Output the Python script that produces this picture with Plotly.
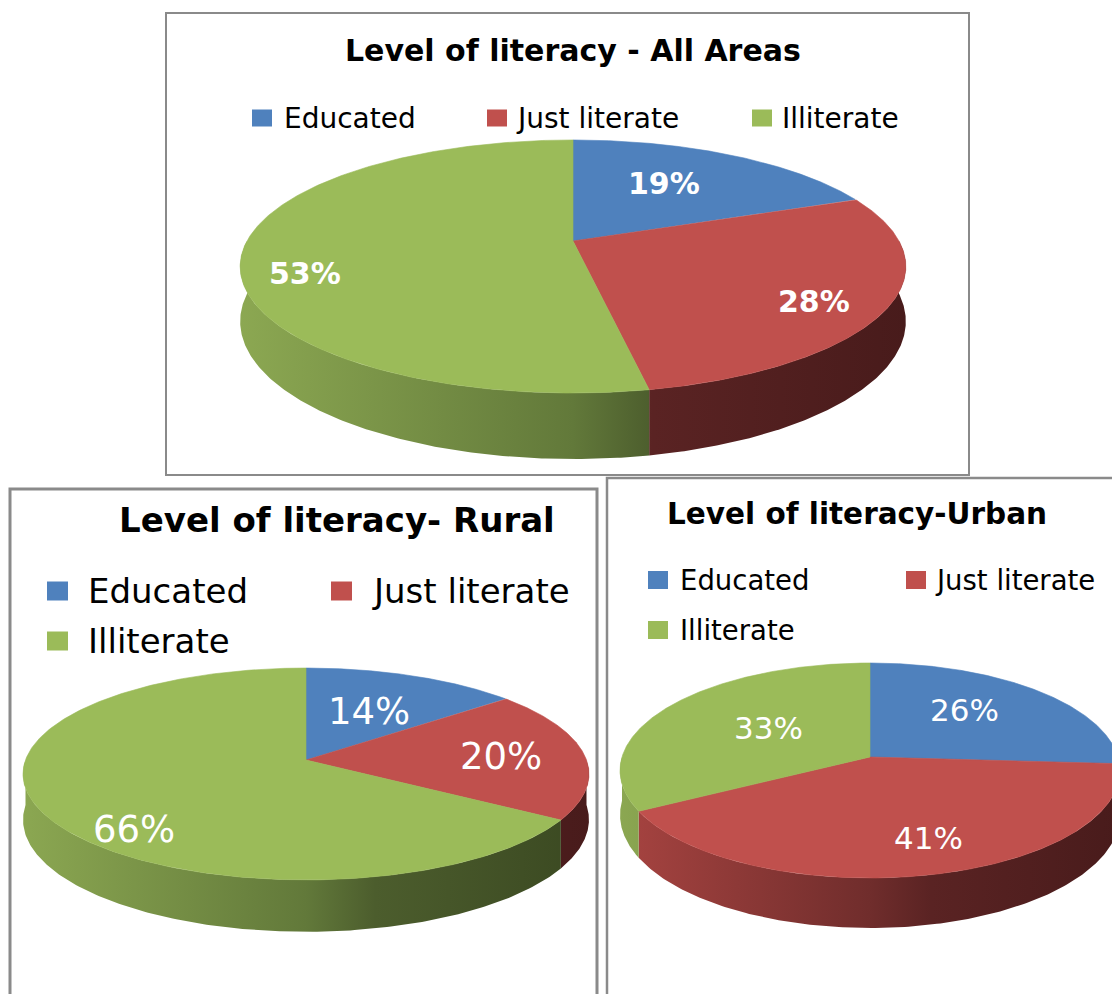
import numpy as np
import plotly.graph_objects as go

# ---------------- data ----------------
categories = ["Educated", "Just literate", "Illiterate"]
all_areas_pct = [19, 28, 53]
rural_pct = [14, 20, 66]
urban_pct = [26, 41, 33]
chart_titles = ["Level of literacy - All Areas", "Level of literacy- Rural", "Level of literacy-Urban"]

# ---------------- styles ----------------
W, H = 1112, 994
FONT = "DejaVu Sans"
TOP_COLORS = ["#4F81BD", "#C0504D", "#9BBB59"]
SIDE_SCALES = [
    [[0, "rgb(86,124,176)"], [0.5, "rgb(58,86,124)"], [0.62, "rgb(46,70,102)"], [1, "rgb(36,55,82)"]],
    [[0, "rgb(168,68,65)"], [0.5, "rgb(112,45,44)"], [0.62, "rgb(90,35,35)"], [1, "rgb(72,27,27)"]],
    [[0, "rgb(140,168,82)"], [0.5, "rgb(98,121,58)"], [0.62, "rgb(76,93,45)"], [1, "rgb(58,72,33)"]],
]
BORDER = "#8a8a8a"

# pie geometry (layout only): apex position, horizontal/vertical scale, perspective, depth
PIE_LAYOUT = [
    dict(cx=573, cy=241, C=326, B=121.4, k=0.2016, d=52.7, lsize=30, bold=True,
         label_r=[0.61, 0.81, 0.82], label_da=[-3.7, 5.2, -12.6]),
    dict(cx=306, cy=760, C=280.5, B=104.1, k=0.132, d=45, lsize=37, bold=False,
         label_r=[0.55, 0.70, 0.835], label_da=[0.8, 1.2, -18.8]),
    dict(cx=870, cy=757, C=248, B=105.8, k=0.1256, d=43.7, lsize=31, bold=False,
         label_r=[0.62, 0.73, 0.51], label_da=[-6.3, -4.4, 3.1]),
]
PIE_VALUES = [all_areas_pct, rural_pct, urban_pct]

# titles / legends / frames layout
TITLE_POS = [(573, 50, 30), (337, 520, 34), (857, 514, 29.5)]
LEGEND_LAYOUT = [
    dict(size=28, sq=(20, 17), items=[(252, 118, 282), (487, 118, 514), (752, 118, 780)]),
    dict(size=34, sq=(21, 19), items=[(47, 591, 86), (331, 591, 370), (47, 641, 86)]),
    dict(size=27.5, sq=(20, 18), items=[(648, 580, 678), (906, 580, 933), (648, 630, 678)]),
]
FRAMES = [((166, 13, 969, 475), 2), ((10, 489, 597, 1000), 3), ((607, 478, 1125, 1000), 2.5)]


def proj(p, theta_deg, r=1.0, drop=0.0):
    t = np.radians(theta_deg)
    u = r * np.sin(t)
    v = r * np.cos(t)
    den = 1 + p["k"] * v
    x = p["cx"] + p["C"] * u / den
    y = p["cy"] - p["B"] * v / den + drop / den
    return x, y


fig = go.Figure()
annotations = []
shapes = []

for p, vals in zip(PIE_LAYOUT, PIE_VALUES):
    total = float(sum(vals))
    bounds = np.concatenate([[0], np.cumsum(vals)]) / total * 360.0
    xmin = p["cx"] - p["C"] * 1.03
    xmax = p["cx"] + p["C"] * 1.03
    # side walls (front half only)
    for i in range(len(vals)):
        a, b = max(bounds[i], 90.0), min(bounds[i + 1], 270.0)
        if b <= a:
            continue
        th = np.linspace(a, b, 200)
        xt, yt = proj(p, th)
        xb, yb = proj(p, th[::-1], drop=p["d"])
        fig.add_trace(go.Scatter(
            x=np.concatenate([xt, xb, xt[:1]]), y=np.concatenate([yt, yb, yt[:1]]),
            mode="lines", fill="toself", line=dict(width=0),
            fillgradient=dict(type="horizontal", colorscale=SIDE_SCALES[i], start=xmin, stop=xmax),
            hoverinfo="skip", showlegend=False))
    # top faces
    for i in range(len(vals)):
        th = np.linspace(bounds[i], bounds[i + 1], 300)
        xa, ya = proj(p, th)
        x0, y0 = proj(p, 0.0, r=0.0)
        fig.add_trace(go.Scatter(
            x=np.concatenate([[x0], xa, [x0]]), y=np.concatenate([[y0], ya, [y0]]),
            mode="lines", fill="toself", fillcolor=TOP_COLORS[i],
            line=dict(width=0.6, color=TOP_COLORS[i]),
            name=categories[i], hoverinfo="skip", showlegend=False))
    # data labels
    for i in range(len(vals)):
        mid = (bounds[i] + bounds[i + 1]) / 2 + p["label_da"][i]
        lx, ly = proj(p, mid, r=p["label_r"][i])
        txt = f"{vals[i]:.0f}%"
        if p["bold"]:
            txt = f"<b>{txt}</b>"
        annotations.append(dict(x=float(lx), y=float(ly), xref="x", yref="y", text=txt,
                                showarrow=False, xanchor="center", yanchor="middle",
                                font=dict(family=FONT, size=p["lsize"], color="white")))

# titles
for (tx, ty, ts), t in zip(TITLE_POS, chart_titles):
    annotations.append(dict(x=tx, y=ty, xref="x", yref="y", text=f"<b>{t}</b>", showarrow=False,
                            xanchor="center", yanchor="middle",
                            font=dict(family=FONT, size=ts, color="black")))

# legends
for lg in LEGEND_LAYOUT:
    sw, sh = lg["sq"]
    for i, (sx, sy, tx) in enumerate(lg["items"]):
        shapes.append(dict(type="rect", xref="x", yref="y", x0=sx, x1=sx + sw,
                           y0=sy - sh / 2, y1=sy + sh / 2, fillcolor=TOP_COLORS[i],
                           line=dict(width=0), layer="above"))
        annotations.append(dict(x=tx, y=sy, xref="x", yref="y", text=categories[i], showarrow=False,
                                xanchor="left", yanchor="middle",
                                font=dict(family=FONT, size=lg["size"], color="black")))

# frames
for (x0, y0, x1, y1), lw in FRAMES:
    shapes.append(dict(type="rect", xref="x", yref="y", x0=x0, y0=y0, x1=x1, y1=y1,
                       line=dict(color=BORDER, width=lw), fillcolor="rgba(0,0,0,0)", layer="below"))

fig.update_layout(
    width=W, height=H, margin=dict(l=0, r=0, t=0, b=0),
    paper_bgcolor="white", plot_bgcolor="white",
    xaxis=dict(range=[0, W], visible=False, fixedrange=True),
    yaxis=dict(range=[H, 0], visible=False, fixedrange=True),
    annotations=annotations, shapes=shapes, showlegend=False,
)

fig.write_html("out.html", config={"displayModeBar": False},
               post_script="document.body.style.margin='0px';document.body.style.overflow='hidden';")
